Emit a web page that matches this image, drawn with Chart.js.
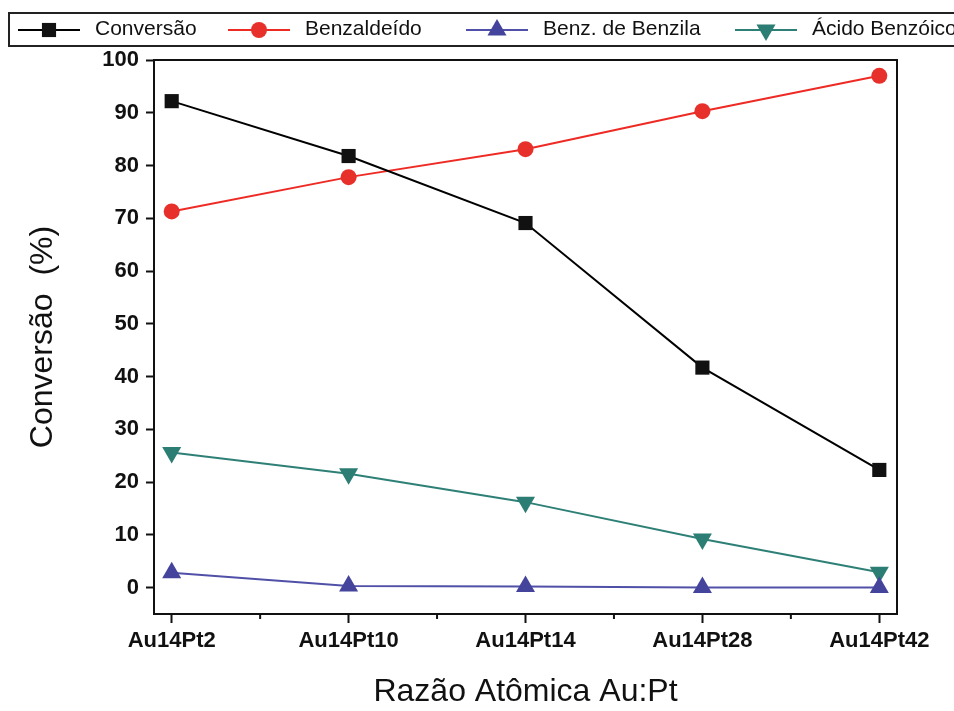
<!DOCTYPE html>
<html>
<head>
<meta charset="utf-8">
<script src="https://cdn.jsdelivr.net/npm/chart.js@4.4.1/dist/chart.umd.min.js"></script>
<style>
  html, body { margin: 0; padding: 0; background: #fff; }
  #wrap { width: 954px; height: 711px; }
</style>
</head>
<body>
<div id="wrap"><canvas id="c" width="954" height="711"></canvas></div>
<script>
// ---- data ----
const categories = ["Au14Pt2", "Au14Pt10", "Au14Pt14", "Au14Pt28", "Au14Pt42"];
const conversao = [92.2, 81.8, 69.1, 41.7, 22.3];
const benzaldeido = [71.3, 77.8, 83.1, 90.3, 97.0];
const benzBenzila = [2.8, 0.3, 0.2, 0.0, 0.0];
const acidoBenzoico = [25.6, 21.6, 16.2, 9.2, 2.9];
const yTickValues = [0, 10, 20, 30, 40, 50, 60, 70, 80, 90, 100];
const seriesNames = ["Conversão", "Benzaldeído", "Benz. de Benzila", "Ácido Benzóico"];

const toPoints = arr => arr.map((v, i) => ({ x: i, y: v }));

const FONT = "'Liberation Sans', Arial, Helvetica, sans-serif";

function mkDataset(label, arr, color, style, radius, rotation) {
  return {
    label: label,
    data: toPoints(arr),
    borderColor: color,
    backgroundColor: color,
    borderWidth: 2,
    pointStyle: style,
    pointRadius: radius,
    pointHoverRadius: radius,
    pointRotation: rotation || 0,
    pointBorderWidth: 0,
    pointBackgroundColor: color,
    tension: 0
  };
}

const datasets = [
  mkDataset(seriesNames[0], conversao, '#111111', 'rect', 10, 0),
  mkDataset(seriesNames[1], benzaldeido, '#e8302a', 'circle', 8, 0),
  mkDataset(seriesNames[2], benzBenzila, '#44449c', 'triangle', 11, 0),
  mkDataset(seriesNames[3], acidoBenzoico, '#2c7d73', 'triangle', 11, 180)
];
datasets[0].borderColor = '#000000';
datasets[1].borderColor = '#ee2a24';
datasets[2].borderColor = '#5050a8';
datasets[3].borderColor = '#2e8077';

function drawMarker(ctx, style, x, y, r, rot, color) {
  if (Chart.helpers && Chart.helpers.drawPoint) {
    ctx.save();
    ctx.fillStyle = color;
    ctx.strokeStyle = color;
    ctx.lineWidth = 0.01;
    Chart.helpers.drawPoint(ctx, { pointStyle: style, radius: r, rotation: rot, borderWidth: 0 }, x, y);
    ctx.restore();
    return;
  }
  ctx.save();
  ctx.fillStyle = color;
  ctx.translate(x, y);
  ctx.rotate(rot * Math.PI / 180);
  ctx.beginPath();
  if (style === 'rect') {
    const s = Math.SQRT1_2 * r;
    ctx.rect(-s, -s, 2 * s, 2 * s);
  } else if (style === 'circle') {
    ctx.arc(0, 0, r, 0, Math.PI * 2);
  } else {
    ctx.moveTo(0, -r);
    ctx.lineTo(r * Math.sin(Math.PI / 3), r * 0.5);
    ctx.lineTo(-r * Math.sin(Math.PI / 3), r * 0.5);
    ctx.closePath();
  }
  ctx.fill();
  ctx.restore();
}

// legend item start positions (layout only)
const legendX = [18, 228, 466, 735];

const framePlugin = {
  id: 'frame',
  afterDraw(chart) {
    const ctx = chart.ctx;
    const a = chart.chartArea;
    ctx.save();
    // frame (top & right)
    ctx.strokeStyle = '#111';
    ctx.lineWidth = 2;
    ctx.beginPath();
    ctx.moveTo(a.left, a.top);
    ctx.lineTo(a.right, a.top);
    ctx.lineTo(a.right, a.bottom);
    ctx.stroke();
    // minor x ticks at half-category positions
    const xs = chart.scales.x;
    ctx.lineWidth = 2;
    for (let i = 0; i < categories.length - 1; i++) {
      const px = xs.getPixelForValue(i + 0.5);
      ctx.beginPath();
      ctx.moveTo(px, a.bottom);
      ctx.lineTo(px, a.bottom + 5);
      ctx.stroke();
    }
    // legend box
    ctx.strokeStyle = '#222';
    ctx.lineWidth = 2;
    ctx.strokeRect(9, 13, 960, 33);
    // legend items
    const ly = 30;
    chart.data.datasets.forEach((ds, i) => {
      const x0 = legendX[i];
      ctx.strokeStyle = ds.borderColor;
      ctx.lineWidth = 2;
      ctx.beginPath();
      ctx.moveTo(x0, ly);
      ctx.lineTo(x0 + 62, ly);
      ctx.stroke();
      drawMarker(ctx, ds.pointStyle, x0 + 31, ly, ds.pointRadius, ds.pointRotation, ds.pointBackgroundColor);
      ctx.fillStyle = '#111';
      ctx.font = "21px " + FONT;
      ctx.textBaseline = 'middle';
      ctx.textAlign = 'left';
      ctx.fillText(ds.label, x0 + 77, ly - 1);
    });
    ctx.restore();
  }
};

new Chart(document.getElementById('c'), {
  type: 'line',
  data: { datasets: datasets },
  options: {
    responsive: false,
    animation: false,
    events: [],
    layout: { padding: { left: 0, top: 60, right: 57, bottom: 0 } },
    plugins: {
      legend: { display: false },
      tooltip: { enabled: false }
    },
    scales: {
      x: {
        type: 'linear',
        min: -0.1,
        max: 4.1,
        afterBuildTicks: s => { s.ticks = categories.map((c, i) => ({ value: i })); },
        afterFit: s => { s.height = 97; },
        ticks: {
          callback: v => categories[Math.round(v)] || '',
          font: { family: FONT, size: 22, weight: 'bold' },
          color: '#111',
          padding: 5,
          maxRotation: 0,
          autoSkip: false
        },
        grid: { drawOnChartArea: false, drawTicks: true, tickLength: 9, tickColor: '#111', tickWidth: 2 },
        border: { display: true, color: '#111', width: 2 },
        title: {
          display: true,
          text: 'Razão Atômica Au:Pt',
          font: { family: FONT, size: 32 },
          color: '#111',
          padding: { top: 0, bottom: 0 }
        }
      },
      y: {
        min: -5,
        max: 100,
        afterBuildTicks: s => { s.ticks = yTickValues.map(v => ({ value: v })); },
        afterFit: s => { s.width = 154; },
        ticks: {
          font: { family: FONT, size: 22, weight: 'bold' },
          color: '#111',
          padding: 7
        },
        grid: { drawOnChartArea: false, drawTicks: true, tickLength: 8, tickColor: '#111', tickWidth: 2 },
        border: { display: true, color: '#111', width: 2 },
        title: {
          display: true,
          text: 'Conversão  (%)',
          font: { family: FONT, size: 32 },
          color: '#111',
          padding: { top: 24, bottom: 0 }
        }
      }
    }
  },
  plugins: [framePlugin]
});
</script>
</body>
</html>
